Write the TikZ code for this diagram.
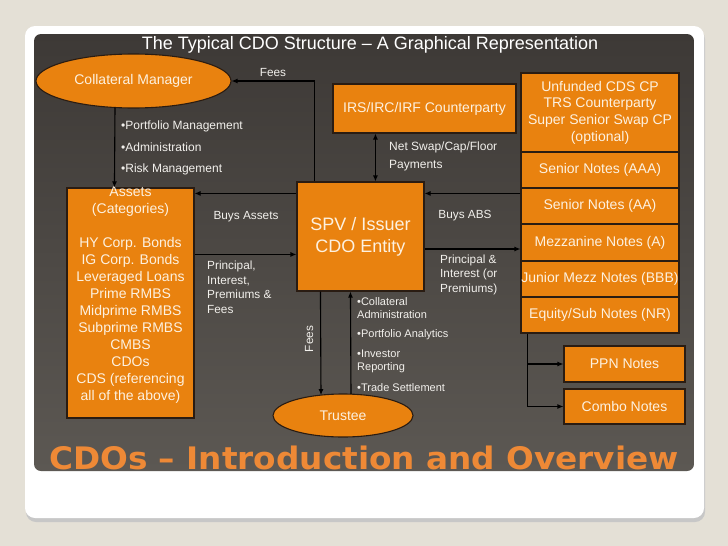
\documentclass[tikz,border=0pt]{standalone}
\usepackage{fontspec}
\setmainfont{Liberation Sans}
\newfontfamily\headfont{DejaVu Sans}
\usetikzlibrary{arrows.meta,shapes.geometric,calc}
\definecolor{bgc}{HTML}{E4E0D6}
\definecolor{orng}{HTML}{E9820F}
\definecolor{cream}{HTML}{FDF1E0}
\definecolor{edge}{HTML}{2A1C12}
\definecolor{lbl}{HTML}{F2F0EC}
\definecolor{heador}{HTML}{EE8936}
\definecolor{paneltop}{HTML}{3D3936}
\definecolor{panelbot}{HTML}{5C5853}
\tikzset{
  box/.style={rectangle, draw=edge, line width=1.1pt, fill=orng, text=cream, inner sep=0pt, align=center,
    font=\fontsize{14}{16.7}\selectfont},
  ell/.style={ellipse, draw=edge, line width=1.1pt, fill=orng, text=cream, inner sep=0pt,
    font=\fontsize{14}{16}\selectfont},
  lab/.style={text=lbl, inner sep=0pt, align=left, font=\fontsize{11.8}{14.5}\selectfont},
  bul/.style={text=lbl, inner sep=0pt, align=left, anchor=west, font=\fontsize{12}{14}\selectfont},
  tbul/.style={text=lbl, inner sep=0pt, align=left, anchor=west, font=\fontsize{11}{13.5}\selectfont},
  arr/.style={draw=black, line width=1.1pt, -{Latex[length=6pt,width=5pt]}},
  dbl/.style={draw=black, line width=1.1pt, {Latex[length=6pt,width=5pt]}-{Latex[length=6pt,width=5pt]}}
}
\begin{document}
\begin{tikzpicture}[x=1pt,y=-1pt]
\useasboundingbox (0,0) rectangle (728,546);
\fill[bgc] (0,0) rectangle (728,546);
% card with shadow
\fill[black!22, rounded corners=10pt] (26,29) rectangle (705,522);
\fill[white, rounded corners=10pt] (25,26) rectangle (704,518);
\shade[rounded corners=7pt, top color=paneltop, bottom color=panelbot] (34,34) rectangle (694,471);

% titles
\node[text=white, inner sep=0pt, font=\fontsize{18}{20}\selectfont] (title) at (370,45) {The Typical CDO Structure – A Graphical Representation};
\node[text=heador, inner sep=0pt, anchor=base, font=\headfont\bfseries\fontsize{31}{34}\selectfont] (head) at (364,469) {\scalebox{1.055}[1]{CDOs – Introduction and Overview}};

% nodes
\node[ell, minimum width=195pt, minimum height=54pt] (cm) at (133.5,81) {Collateral Manager};
\node[box, minimum width=183pt, minimum height=49pt] (irs) at (424.5,108.5) {IRS/IRC/IRF Counterparty};
\node[box, minimum width=158pt, minimum height=79pt] (unf) at (600,112.5) {Unfunded CDS CP\\TRS Counterparty\\Super Senior Swap CP\\(optional)};
\node[box, minimum width=158pt, minimum height=36pt] (aaa) at (600,170) {Senior Notes (AAA)};
\node[box, minimum width=158pt, minimum height=36pt] (aa) at (600,206) {Senior Notes (AA)};
\node[box, minimum width=158pt, minimum height=37pt] (mezz) at (600,242.5) {Mezzanine Notes (A)};
\node[box, minimum width=158pt, minimum height=36pt] (jr) at (600,279) {\makebox[0pt][c]{Junior Mezz Notes (BBB)}};
\node[box, minimum width=158pt, minimum height=36pt] (eq) at (600,315) {Equity/Sub Notes (NR)};
\node[box, minimum width=121pt, minimum height=36pt] (ppn) at (624.5,364) {PPN Notes};
\node[box, minimum width=121pt, minimum height=35pt] (combo) at (624.5,406.5) {Combo Notes};
\node[box, minimum width=127pt, minimum height=109pt, font=\fontsize{18}{22}\selectfont] (spv) at (360.5,236.5) {SPV / Issuer\\CDO Entity};
\node[box, minimum width=127pt, minimum height=230pt] (assets) at (130.5,303) {};
\node[text=cream, inner sep=0pt, align=center, font=\fontsize{14}{17}\selectfont] (assetstxt) at (130.5,295.5)
  {Assets\\(Categories)\\[17pt]HY Corp. Bonds\\IG Corp. Bonds\\Leveraged Loans\\Prime RMBS\\Midprime RMBS\\Subprime RMBS\\CMBS\\CDOs\\CDS (referencing\\all of the above)};
\node[ell, minimum width=140pt, minimum height=43pt] (tr) at (343,415.5) {Trustee};

% labels
\node[lab] (feestop) at (273,72) {Fees};
\node[bul] (b1) at (121,126) {•Portfolio Management};
\node[bul] (b2) at (121,147) {•Administration};
\node[bul] (b3) at (121,169) {•Risk Management};
\node[lab, anchor=west, font=\fontsize{12}{18}\selectfont] (netswap) at (389,156) {Net Swap/Cap/Floor\\Payments};
\node[lab] (buysassets) at (246,217) {Buys Assets};
\node[lab, anchor=west] (pifees) at (207,287.5) {Principal,\\Interest,\\Premiums \&\\Fees};
\node[lab] (buysabs) at (465,216) {Buys ABS};
\node[lab, anchor=west] (piprem) at (440,274.5) {Principal \&\\Interest (or\\Premiums)};
\node[lab, rotate=90] (feesv) at (309,339) {Fees};
\node[tbul] (t1) at (357,308) {•Collateral\\Administration};
\node[tbul] (t2) at (357,335) {•Portfolio Analytics};
\node[tbul] (t3) at (357,361.5) {•Investor\\Reporting};
\node[tbul] (t4) at (357,388) {•Trade Settlement};

% connectors
\draw[arr] ($(spv.north west)+(18,0)$) |- (cm.east);
\draw[arr] ($(cm.center)+(-18.5,26.5)$) -- ($(assets.north west)+(48,0)$);
\draw[dbl] ($(irs.south west)+(43,0)$) -- ($(spv.north west)+(79,0)$);
\draw[arr] ($(aa.north west)+(0,6)$) coordinate (abs) -- (abs -| spv.east);
\draw[arr] ($(mezz.west)+(0,6.5)$) coordinate (pim) (spv.east |- pim) -- (pim);
\draw[arr] ($(spv.north west)+(0,12)$) coordinate (ba) -- (ba -| assets.east);
\draw[arr] ($(assets.north east)+(0,67)$) coordinate (pa) -- (pa -| spv.west);
\draw[arr] ($(spv.south west)+(24,0)$) -- ($(tr.center)+(-22,-20.4)$);
\draw[arr] ($(tr.center)+(8,-21.4)$) -- ($(spv.south west)+(54,0)$);
\draw[arr] ($(eq.south west)+(7,0)$) |- (ppn.west);
\draw[arr] ($(eq.south west)+(7,0)$) |- (combo.west);
\end{tikzpicture}
\end{document}
